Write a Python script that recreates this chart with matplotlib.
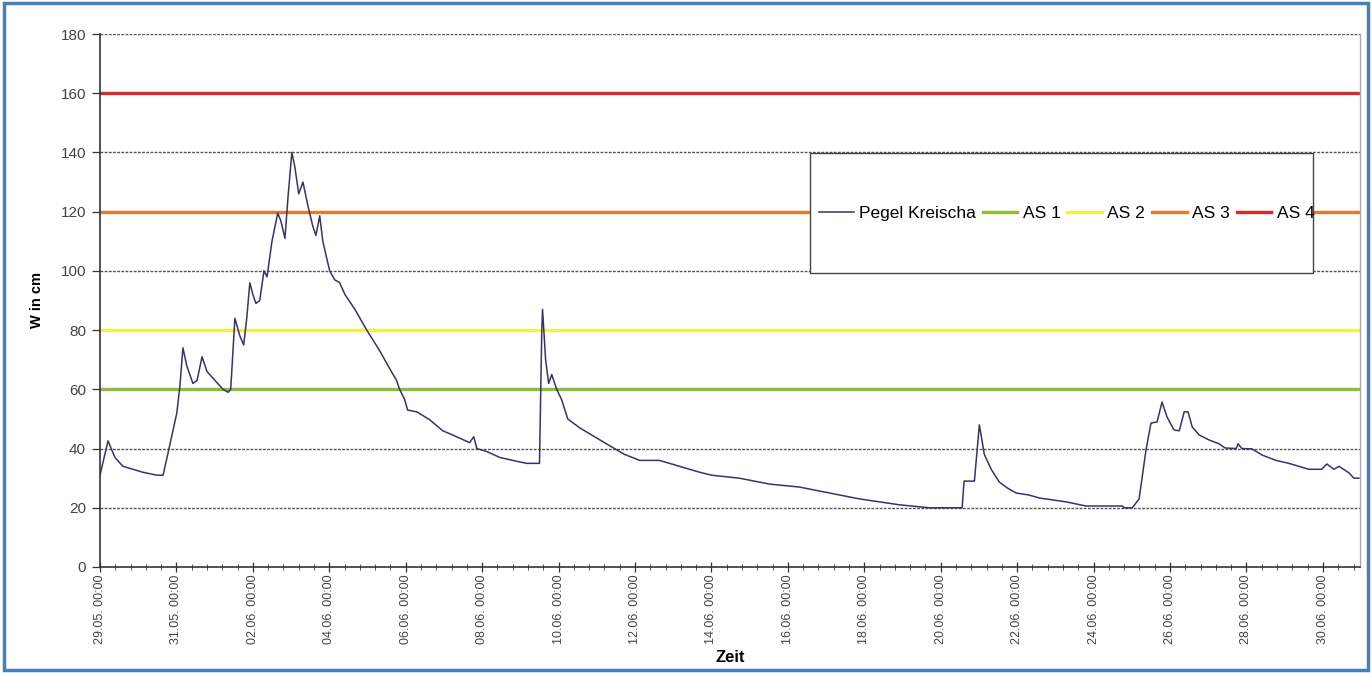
import numpy as np
import pandas as pd
import matplotlib
matplotlib.use("Agg")
import matplotlib.pyplot as plt
import matplotlib.dates as mdates
from matplotlib.patches import Rectangle
from matplotlib.lines import Line2D

plt.rcParams['font.family'] = ['Liberation Sans', 'DejaVu Sans']

# ---------------- data ----------------
start = pd.Timestamp("2013-05-29 00:00")
# time offsets in days since 29.05. 00:00
t_days = [0.00, 0.21, 0.39, 0.60, 0.86, 1.12, 1.49, 1.65, 1.78, 2.01, 2.09, 2.17,
          2.27, 2.43, 2.54, 2.67, 2.80, 3.01, 3.22, 3.35, 3.42, 3.53, 3.66, 3.76,
          3.84, 3.92, 4.00, 4.08, 4.18, 4.29, 4.37, 4.50, 4.65, 4.73, 4.84, 4.92,
          5.02, 5.10, 5.20, 5.31, 5.44, 5.57, 5.65, 5.75, 5.83, 6.01, 6.14, 6.27,
          6.41, 6.67, 6.98, 7.32, 7.58, 7.76, 7.84, 7.97, 8.05, 8.29, 8.63, 8.97,
          9.33, 9.67, 9.78, 9.86, 10.12, 10.46, 10.80, 11.16, 11.50, 11.56, 11.58,
          11.66, 11.74, 11.82, 11.95, 12.08, 12.24, 12.55, 12.94, 13.33, 13.73,
          14.12, 14.64, 15.16, 15.69, 16.00, 16.73, 17.52, 18.30, 19.08, 19.87,
          20.39, 20.92, 21.70, 22.56, 22.61, 22.88, 23.01, 23.14, 23.32, 23.53,
          23.74, 23.97, 24.31, 24.58, 25.28, 25.80, 26.75, 26.80, 27.01, 27.19,
          27.37, 27.50, 27.66, 27.79, 27.92, 28.10, 28.24, 28.37, 28.47, 28.58,
          28.76, 29.02, 29.28, 29.44, 29.73, 29.78, 29.88, 30.14, 30.41, 30.77,
          31.11, 31.42, 31.63, 31.97, 32.10, 32.29, 32.42, 32.68, 32.81, 32.94]
level_cm = [31, 42.6, 37, 34, 33, 32, 31, 31, 38.5, 52, 61, 74,
            68, 62, 63, 71, 66, 63, 60, 59, 60, 84, 78, 75,
            84, 96, 92, 89, 90, 100, 98, 110, 119.5, 117, 111, 125,
            140, 135, 126, 130, 122, 115, 112, 118.6, 110, 100, 97, 96,
            92, 87, 80, 73, 67, 63, 60, 56.6, 53, 52.4, 49.7, 46,
            44, 42, 44, 40, 39, 37, 36, 35, 35, 80, 87,
            70, 62, 65, 60, 56.5, 50, 47, 44, 41, 38,
            36, 36, 34, 32, 31, 30, 28, 27, 25, 23,
            22, 21, 20, 20, 29, 29, 48, 38, 33, 28.7,
            26.7, 25, 24.3, 23.3, 22, 20.6, 20.6, 20, 20, 23,
            39.5, 48.6, 49, 55.7, 50.7, 46.3, 46, 52.4, 52.4, 47.3,
            44.6, 42.9, 41.6, 40.2, 40, 41.6, 40, 39.9, 37.8, 36,
            35, 33.8, 33, 33, 34.8, 33, 34, 31.8, 30, 30]

series_name = "Pegel Kreischa"
thresh_names = ["AS 1", "AS 2", "AS 3", "AS 4"]
thresh_values = [60, 80, 120, 160]
thresh_colors = ["#8fba3a", "#f2ee4a", "#e8772e", "#d42a2a"]

y_ticks = [0, 20, 40, 60, 80, 100, 120, 140, 160, 180]

# ---------------- figure ----------------
times = start + pd.to_timedelta(np.array(t_days), unit="D")

fig = plt.figure(figsize=(13.72, 6.73), dpi=100)
ax = fig.add_axes([100/1372, 1-567/673, 1260/1372, 533/673])

# grid lines (dashed)
for yv in y_ticks[1:]:
    ax.axhline(yv, color="#555555", lw=1.0, ls=(0, (2, 1)), zorder=1)

# threshold lines
thresh_handles = []
for name, val, col in zip(thresh_names, thresh_values, thresh_colors):
    ax.axhline(val, color=col, lw=2.4, zorder=2)
    thresh_handles.append(Line2D([], [], color=col, lw=2.4, label=name))

ln, = ax.plot(times, level_cm, color="#34346f", lw=1.1, zorder=3, label=series_name)

x0 = mdates.date2num(start)
ax.set_xlim(x0, x0 + 32.97)
ax.set_ylim(0, 180)
ax.set_yticks(y_ticks)

major = [x0 + 2*k for k in range(17)]
ax.xaxis.set_major_locator(matplotlib.ticker.FixedLocator(major))
ax.xaxis.set_minor_locator(matplotlib.ticker.FixedLocator(list(np.arange(x0, x0 + 33, 0.4))))
ax.xaxis.set_major_formatter(mdates.DateFormatter("%d.%m. %H:%M"))
for lab in ax.get_xticklabels():
    lab.set_rotation(90)

ax.tick_params(axis="x", which="major", direction="inout", length=7, width=0.9,
               color="#333333", labelsize=9, labelcolor="#444444", pad=2)
ax.tick_params(axis="x", which="minor", direction="inout", length=4, width=0.7, color="#555555")
ax.tick_params(axis="y", which="major", direction="out", length=6, width=0.9,
               color="#333333", labelsize=11, labelcolor="#444444", pad=4)

for s in ["left", "bottom"]:
    ax.spines[s].set_color("#333333")
    ax.spines[s].set_linewidth(1.2)
ax.spines["top"].set_visible(False)
ax.spines["right"].set_color("#aaaaaa")
ax.spines["right"].set_linewidth(1.0)

ax.set_ylabel("W in cm", fontsize=10.5, fontweight="bold", labelpad=12)
ax.set_xlabel("Zeit", fontsize=12, fontweight="bold", labelpad=4)

# legend box
bx0, by0 = (810-100)/1260, (567-273)/533
bw, bh = (1313-810)/1260, (273-153)/533
ax.add_patch(Rectangle((bx0, by0), bw, bh, transform=ax.transAxes, facecolor="white",
                       edgecolor="#444444", lw=1.0, zorder=5))
leg = ax.legend(handles=[ln] + thresh_handles, loc="center",
                bbox_to_anchor=(bx0 + bw/2 + 0.004, by0 + bh/2), ncol=5, frameon=False,
                fontsize=12.5, handlelength=2.0, handletextpad=0.3, columnspacing=0.4,
                borderpad=0)
leg.set_zorder(6)

# outer blue frame
fig.patches.append(Rectangle((0.003, 0.004), 0.994, 0.992, transform=fig.transFigure,
                             fill=False, edgecolor="#4a7ebb", lw=2.5))

fig.savefig("out.png", dpi=100)
